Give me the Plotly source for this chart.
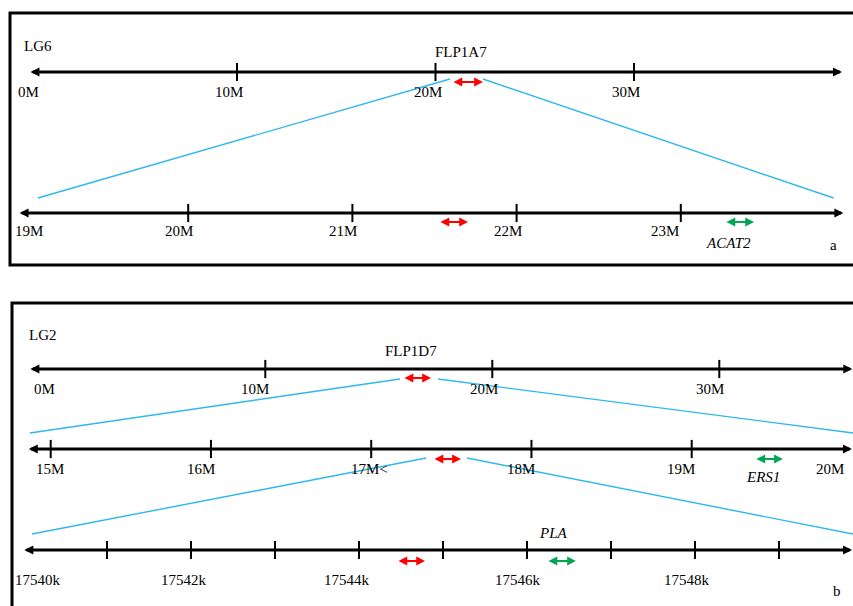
import plotly.graph_objects as go

W, H = 853, 606

# ---------------- data ----------------
# Panel a : LG6 chromosome (M)
lg6_span = [-0.43, 40.48]
lg6_ticks = [10, 20, 30]
lg6_label_vals = [0, 10, 20, 30]
lg6_labels = ["0M", "10M", "20M", "30M"]
lg6_flp1a7 = [20.88, 22.39]          # red marker FLP1A7
lg6_zoom_from = [20.73, 22.39]       # zoomed segment (top of blue lines)

# Panel a : zoom 19M - 24M
za_span = [18.97, 23.99]
za_ticks = [20, 21, 22, 23]
za_label_vals = [19, 20, 21, 22, 23]
za_labels = ["19M", "20M", "21M", "22M", "23M"]
za_flp = [21.533, 21.704]
za_acat2 = [23.275, 23.446]
za_zoom_to = [19.085, 23.93]

# Panel b : LG2 chromosome (M)
lg2_span = [-0.37, 35.86]
lg2_ticks = [10, 20, 30]
lg2_label_vals = [0, 10, 20, 30]
lg2_labels = ["0M", "10M", "20M", "30M"]
lg2_flp1d7 = [16.11, 17.30]
lg2_zoom_from = [15.93, 17.61]

# Panel b : zoom 15M - 20M
zb_span = [14.86, 20.0]
zb_ticks = [15, 16, 17, 18, 19]
zb_label_vals = [15, 16, 17, 18, 19, 20]
zb_labels = ["15M", "16M", "17M&lt;", "18M", "19M", "20M"]
zb_flp = [17.392, 17.560]
zb_ers1 = [19.400, 19.569]
zb_zoom_to = [14.87, 20.007]
zb_zoom_from = [17.342, 17.598]

# Panel b : zoom 17540k - 17550k
zc_span = [17540.01, 17549.87]
zc_ticks = [17541, 17542, 17543, 17544, 17545, 17546, 17547, 17548, 17549]
zc_label_vals = [17540, 17542, 17544, 17546, 17548]
zc_labels = ["17540k", "17542k", "17544k", "17546k", "17548k"]
zc_flp = [17544.464, 17544.786]
zc_pla = [17546.25, 17546.583]
zc_zoom_to = [17540.107, 17549.88]

# ---------------- layout / style ----------------
FONT = "Liberation Serif, Times New Roman, serif"
FS = 15
BLUE = "#2fb8ee"
RED = "#ff0000"
GREEN = "#00a651"

# scale of each ruler: (reference value, pixel of reference, pixels per unit, y pixel)
scales = {
    "x2": dict(ref=20, px=435.5, k=19.85, y=72),
    "x3": dict(ref=21.5, px=434.5, k=164.2, y=213),
    "x4": dict(ref=20, px=492.3, k=22.7, y=369),
    "x5": dict(ref=15, px=50.7, k=160.25, y=449),
    "x6": dict(ref=17540, px=23, k=84.0, y=550),
}


def to_px(ax, v):
    s = scales[ax]
    return s["px"] + s["k"] * (v - s["ref"])


def axis_range(ax):
    s = scales[ax]
    return [s["ref"] + (0 - s["px"]) / s["k"], s["ref"] + (W - s["px"]) / s["k"]]


fig = go.Figure()
annotations = []
shapes = []

# frames
shapes.append(dict(type="rect", xref="x", yref="y", x0=10, y0=13, x1=900, y1=265,
                   line=dict(color="black", width=3)))
shapes.append(dict(type="rect", xref="x", yref="y", x0=12, y0=303, x1=900, y1=660,
                   line=dict(color="black", width=3)))


def ruler(ax, span, ticks, label_vals, labels, shifts, label_dy=20):
    s = scales[ax]
    y = s["y"]
    annotations.append(dict(
        x=span[1], y=y, ax=span[0], ay=y, xref=ax, yref="y", axref=ax, ayref="y",
        text="", showarrow=True, arrowside="end+start", arrowhead=2, startarrowhead=2,
        arrowsize=0.6, startarrowsize=0.6, arrowwidth=3, arrowcolor="black",
        standoff=0, startstandoff=0, borderpad=0))
    fig.add_trace(go.Scatter(
        x=ticks, y=[y] * len(ticks), xaxis=ax, yaxis="y", mode="markers",
        marker=dict(symbol="line-ns", size=13, line=dict(color="black", width=2)),
        hoverinfo="skip", showlegend=False))
    for v, t, sh in zip(label_vals, labels, shifts):
        annotations.append(dict(x=v, y=y + label_dy, xref=ax, yref="y", text=t,
                                showarrow=False, xshift=sh,
                                font=dict(family=FONT, size=FS, color="black")))


def marker(ax, rng, y, color):
    annotations.append(dict(
        x=rng[1], y=y, ax=rng[0], ay=y, xref=ax, yref="y", axref=ax, ayref="y",
        text="", showarrow=True, arrowside="end+start", arrowhead=2, startarrowhead=2,
        arrowsize=0.8, startarrowsize=0.8, arrowwidth=2.2, arrowcolor=color,
        standoff=0, startstandoff=0, borderpad=0))


def label(ax, v, y, text, xshift=0, italic=False):
    annotations.append(dict(x=v, y=y, xref=ax, yref="y",
                            text=f"<i>{text}</i>" if italic else text,
                            showarrow=False, xshift=xshift,
                            font=dict(family=FONT, size=FS, color="black")))


def zoom_lines(ax_top, top_vals, top_dy, ax_bot, bot_vals, bot_dy):
    yt = scales[ax_top]["y"] + top_dy
    yb = scales[ax_bot]["y"] + bot_dy
    for i in range(2):
        fig.add_trace(go.Scatter(
            x=[to_px(ax_top, top_vals[i]), to_px(ax_bot, bot_vals[i])], y=[yt, yb],
            xaxis="x", yaxis="y", mode="lines", line=dict(color=BLUE, width=1.4),
            hoverinfo="skip", showlegend=False))


# blue zoom connectors
zoom_lines("x2", lg6_zoom_from, 7, "x3", za_zoom_to, -15)
zoom_lines("x4", lg2_zoom_from, 10, "x5", zb_zoom_to, -16)
zoom_lines("x5", zb_zoom_from, 9, "x6", zc_zoom_to, -16)

# rulers
ruler("x2", lg6_span, lg6_ticks, lg6_label_vals, lg6_labels, [-10, -8, -8, -8])
ruler("x3", za_span, za_ticks, za_label_vals, za_labels, [5, -9, -9, -9, -16], label_dy=18)
ruler("x4", lg2_span, lg2_ticks, lg2_label_vals, lg2_labels, [6, -10, -8, -9])
ruler("x5", zb_span, zb_ticks, zb_label_vals, zb_labels, [-1, -10, -2, -10, -11, -22])
ruler("x6", zc_span, zc_ticks, zc_label_vals, zc_labels, [15, -7, -12, -9, -8], label_dy=30)

# markers
marker("x2", lg6_flp1a7, 82, RED)
marker("x3", za_flp, 222, RED)
marker("x3", za_acat2, 222, GREEN)
marker("x4", lg2_flp1d7, 378, RED)
marker("x5", zb_flp, 459, RED)
marker("x5", zb_ers1, 459, GREEN)
marker("x6", zc_flp, 561, RED)
marker("x6", zc_pla, 561, GREEN)

# text labels
label("x2", sum(lg6_flp1a7) / 2, 52, "FLP1A7", xshift=-7)
label("x3", sum(za_acat2) / 2, 243, "ACAT2", xshift=-11, italic=True)
label("x4", sum(lg2_flp1d7) / 2, 351, "FLP1D7", xshift=-7)
label("x5", sum(zb_ers1) / 2, 477, "ERS1", xshift=-6, italic=True)
label("x6", sum(zc_pla) / 2, 533, "PLA", xshift=-8, italic=True)
label("x", 38, 46, "LG6")
label("x", 43, 335, "LG2")
label("x", 833, 245, "a")
label("x", 837, 591, "b")

layout_axes = dict(
    xaxis=dict(range=[0, W], visible=False, domain=[0, 1], fixedrange=True),
    yaxis=dict(range=[H, 0], visible=False, domain=[0, 1], fixedrange=True),
)
for ax in scales:
    key = "xaxis" + ax[1:]
    layout_axes[key] = dict(range=axis_range(ax), visible=False, overlaying="x",
                            anchor="y", fixedrange=True)

fig.update_layout(
    width=W, height=H, autosize=False,
    margin=dict(l=0, r=0, t=0, b=0, pad=0),
    paper_bgcolor="white", plot_bgcolor="white",
    showlegend=False,
    annotations=annotations, shapes=shapes,
    **layout_axes,
)

fig.write_html(
    "out.html",
    config={"displayModeBar": False},
    post_script="document.body.style.margin='0px';document.body.style.overflow='hidden';",
)
